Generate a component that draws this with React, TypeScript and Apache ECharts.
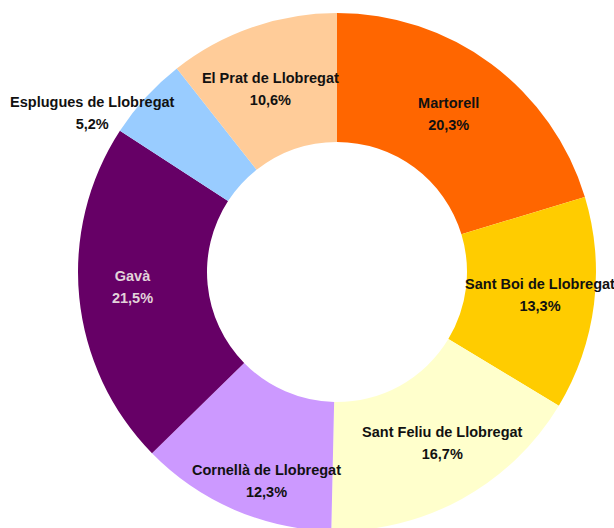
import React, { useEffect, useRef } from "react";
import * as echarts from "echarts";

const categories = [
  "Martorell",
  "Sant Boi de Llobregat",
  "Sant Feliu de Llobregat",
  "Cornellà de Llobregat",
  "Gavà",
  "Esplugues de Llobregat",
  "El Prat de Llobregat",
];
const values = [20.3, 13.3, 16.7, 12.3, 21.5, 5.2, 10.6];
const colors = ["#FF6600", "#FFCC00", "#FFFFCC", "#CC99FF", "#660066", "#99CCFF", "#FFCC99"];
const labelColors = ["#111", "#111", "#111", "#111", "#E2D3DA", "#111", "#111"];
// label nudges (dx, dy) relative to the default inside position
const labelNudges: [number, number][] = [
  [-6, 1],
  [7, -1],
  [10, -2],
  [8, 28],
  [-8, -5],
  [-99, -26],
  [-2, 4],
];

const FONT = "'Liberation Sans Narrow', 'Arial Narrow', Arial, 'Liberation Sans', sans-serif";

export default function App() {
  const ref = useRef<HTMLDivElement>(null);
  useEffect(() => {
    if (!ref.current) return;
    const chart = echarts.init(ref.current, undefined, { renderer: "svg" });
    chart.setOption({
      animation: false,
      backgroundColor: "#ffffff",
      series: [
        {
          type: "pie",
          center: [337, 272],
          radius: [130, 259],
          startAngle: 90,
          clockwise: true,
          avoidLabelOverlap: false,
          itemStyle: { borderWidth: 0 },
          label: {
            show: true,
            position: "inside",
            fontFamily: FONT,
            fontWeight: "bold",
            fontSize: 14.5,
            lineHeight: 22,
            align: "center",
            formatter: (p: any) => `${p.name}\n${p.value.toFixed(1).replace(".", ",")}%`,
          },
          labelLine: { show: false },
          labelLayout: (p: any) => {
            const n = labelNudges[p.dataIndex];
            return { dx: n[0], dy: n[1] };
          },
          emphasis: { disabled: true },
          data: categories.map((name, i) => ({
            name,
            value: values[i],
            itemStyle: { color: colors[i] },
            label: { color: labelColors[i] },
          })),
        },
      ],
    });
    return () => chart.dispose();
  }, []);
  return (
    <div
      ref={ref}
      style={{ position: "fixed", left: 0, top: 0, width: 614, height: 528 }}
    />
  );
}
